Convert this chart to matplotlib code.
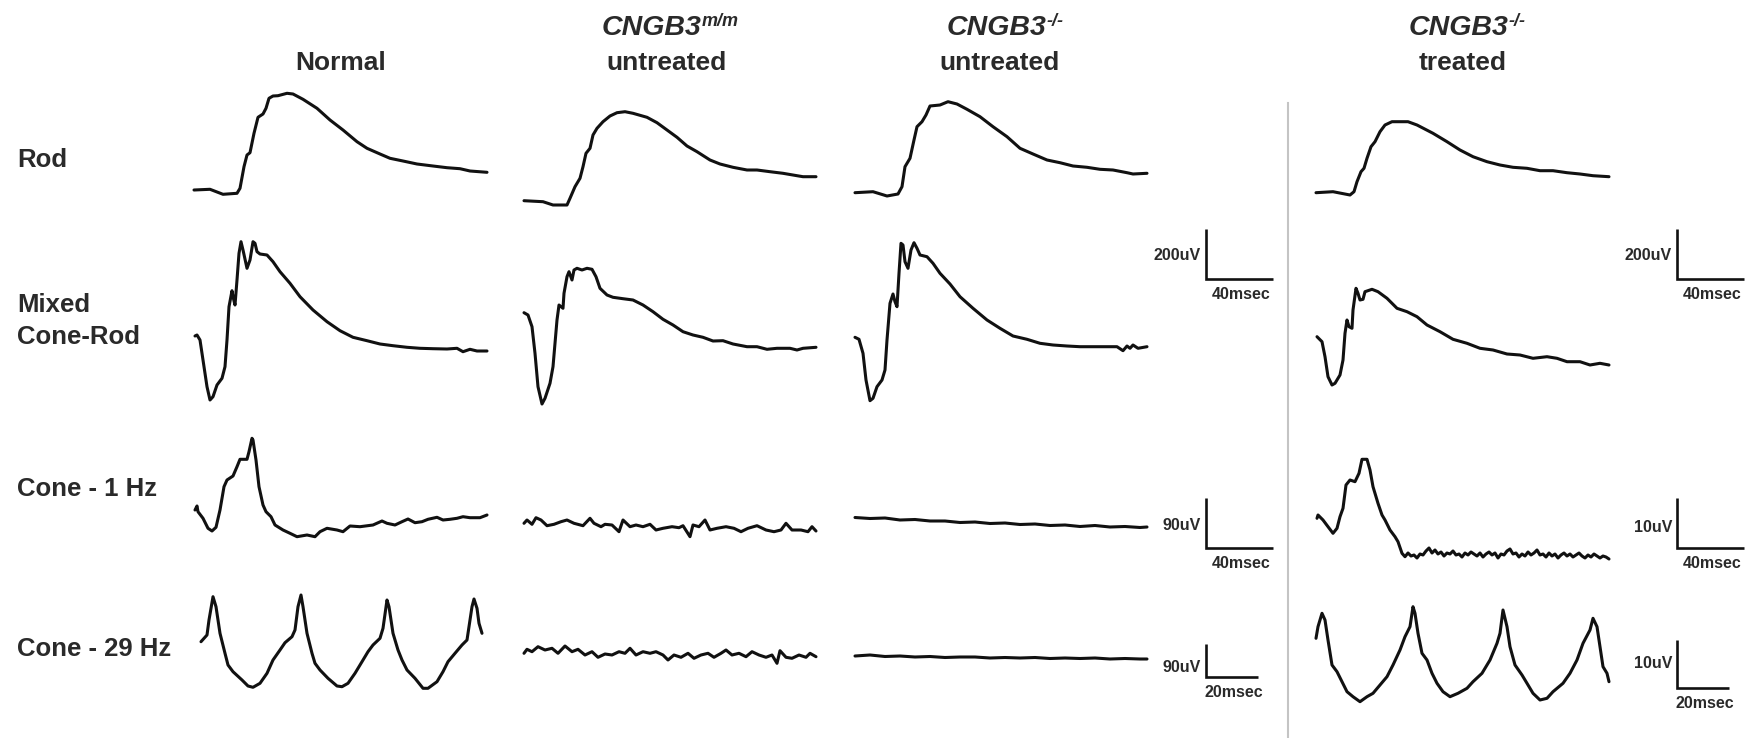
import numpy as np
import matplotlib
matplotlib.use("Agg")
import matplotlib.pyplot as plt

plt.rcParams['font.family'] = ['Liberation Sans', 'DejaVu Sans']

# ---------------- labels ----------------
col_names = ['Normal', 'untreated', 'untreated', 'treated']
col_gene = [None, 'CNGB3', 'CNGB3', 'CNGB3']
col_sup = [None, 'm/m', '-/-', '-/-']
row_names = ['Rod', 'Mixed\nCone-Rod', 'Cone - 1 Hz', 'Cone - 29 Hz']
scale_amp_labels = ['200uV', '200uV', '90uV', '10uV', '90uV', '10uV']
scale_time_labels = ['40msec', '40msec', '40msec', '40msec', '20msec', '20msec']

# ---------------- traces (time, amplitude; trace units, amplitude up) ----------------
# Row 1: Rod
rod_normal_t = [0, 16, 29, 43, 46, 50, 53, 56, 60, 64, 69, 72, 75, 79, 84, 93, 99, 109, 123, 136, 149, 163, 173, 186, 196, 209, 223, 239, 253, 266, 276, 293]
rod_normal_v = [0, 0.7, -4.3, -3.3, 1.7, 23.3, 35, 37.3, 56.7, 72.7, 76, 81.7, 91.7, 94, 94.3, 96.7, 96, 90.7, 81.7, 70, 60, 48.3, 41.7, 36, 31.7, 29, 26, 24, 22.3, 21.3, 19, 17.7]
rod_mm_t = [0, 19, 29, 43, 46, 51, 56, 59, 62, 66, 69, 73, 79, 86, 93, 101, 109, 123, 133, 143, 153, 163, 173, 186, 196, 209, 223, 233, 246, 259, 273, 279, 292]
rod_mm_v = [-10.7, -11.7, -15, -15, -8.3, 3.3, 11.7, 23.3, 36.7, 41.7, 55, 61.7, 68.3, 74, 77.3, 78.3, 76.7, 72.7, 67.3, 60, 52.7, 44, 38.3, 30, 26, 22.7, 20, 20, 18.3, 16.7, 14.3, 13.3, 13.3]
rod_ko_t = [0, 18, 32, 43, 47, 50, 55, 59, 62, 67, 71, 75, 85, 93, 102, 112, 125, 138, 152, 165, 178, 192, 205, 218, 232, 245, 258, 272, 278, 292]
rod_ko_v = [-2.7, -1.7, -6, -4, 3.3, 23.3, 31.7, 50, 63.3, 68.3, 75, 84, 85, 88.3, 86, 80.7, 73.3, 63.3, 53.3, 41.7, 36, 30, 27.3, 24, 22.7, 20.7, 20, 17.3, 16, 16.7]
rod_tr_t = [0, 17, 34, 38, 41, 45, 48, 51, 55, 59, 64, 69, 76, 84, 92, 101, 117, 131, 144, 157, 171, 184, 197, 211, 224, 237, 251, 264, 277, 293]
rod_tr_v = [-2.7, -1.7, -5, -1.7, 8.3, 18.3, 21.7, 31.7, 43.3, 48.3, 58.3, 65, 68.3, 68.3, 68.3, 65, 56.7, 48.3, 40, 33.3, 28.3, 25, 22.7, 21.7, 19.3, 19.3, 17.3, 16, 14.3, 13.3]

# Row 2: Mixed cone-rod
mix_normal_t = [1, 3, 6, 9, 13, 16, 19, 23, 28, 31, 33, 35, 38, 39, 41, 43, 45, 47, 49, 53, 56, 59, 61, 63, 66, 73, 79, 86, 96, 106, 119, 133, 146, 159, 173, 186, 199, 213, 226, 239, 253, 263, 269, 276, 283, 293]
mix_normal_v = [4, 5, 0, -20, -46.7, -60, -56.7, -45, -38.3, -26.7, 0, 33.3, 49.3, 43.3, 35, 60, 86.7, 98.3, 90, 71.7, 80, 98.3, 96.7, 88.3, 86, 85, 78.3, 68.3, 56.7, 43.3, 30, 18.3, 9.3, 2.7, -0.7, -4, -5.7, -7.3, -8.3, -8.7, -9, -8.3, -11.7, -9.3, -11, -11]
mix_mm_t = [0, 4, 8, 11, 14, 18, 21, 26, 29, 33, 35, 39, 40, 43, 45, 48, 50, 53, 58, 63, 68, 72, 76, 83, 89, 99, 109, 119, 129, 139, 149, 159, 169, 179, 189, 199, 209, 223, 233, 243, 253, 266, 273, 279, 292]
mix_mm_v = [27.3, 25, 13.3, -13.3, -46.7, -64, -58.3, -43.3, -26.7, 20, 35, 31.7, 46.7, 63.3, 68.3, 60, 70, 71.7, 70, 71.7, 70.7, 63.3, 51.7, 45, 42.7, 41.3, 40, 35, 28.3, 20.7, 15, 8.3, 5, 2.7, -1, -0.7, -4, -6.7, -6.7, -9.3, -8.3, -8.3, -10, -8.3, -7.3]
mix_ko_t = [0, 4, 8, 11, 15, 18, 22, 27, 30, 32, 35, 38, 40, 42, 44, 46, 48, 50, 53, 56, 59, 62, 65, 72, 78, 85, 95, 105, 118, 132, 145, 158, 172, 185, 198, 212, 225, 238, 252, 262, 268, 272, 275, 278, 283, 292]
mix_ko_v = [2.7, 0.7, -13.3, -40, -60.7, -58.3, -46.7, -40, -30, 0, 36.7, 46, 38.3, 33.3, 66.7, 96.7, 95, 78.3, 71.7, 90, 97.3, 91.7, 85, 83.3, 76.7, 66.7, 56, 43.3, 31.7, 20, 11.7, 4, 0.7, -3.3, -5, -6, -6.7, -6.7, -6.7, -6.7, -10.7, -6, -8.3, -5, -8.3, -6.7]
mix_tr_t = [1, 6, 9, 12, 16, 19, 24, 27, 29, 31, 33, 36, 37, 40, 42, 44, 47, 49, 56, 62, 71, 81, 91, 101, 111, 124, 137, 151, 164, 177, 191, 204, 217, 231, 241, 251, 264, 274, 284, 293]
mix_tr_v = [3.3, -1.7, -16.7, -36.7, -45, -43.3, -35, -20, 6.7, 20, 13.3, 11.7, 30, 51.7, 46.7, 40, 40.7, 48.3, 50.7, 48.3, 41.7, 31.7, 28.3, 23.3, 15, 8.3, 0.7, -3.3, -8.3, -10, -14, -15, -18.3, -16.7, -18.3, -21.7, -21.7, -25, -23.3, -25]

# Row 3: Cone 1 Hz
c1_normal_t = [1, 3, 4, 9, 14, 18, 22, 26, 30, 33, 39, 43, 46, 53, 55, 58, 59, 62, 65, 69, 72, 77, 81, 89, 96, 103, 113, 121, 126, 133, 143, 149, 156, 166, 179, 188, 193, 201, 208, 214, 221, 228, 234, 243, 249, 256, 263, 269, 276, 286, 293]
c1_normal_v = [10, 14, 8.3, 1.7, -8.3, -11, -7.3, 10, 33.3, 40, 44, 53.3, 60.7, 60.7, 68.3, 81.7, 80, 60, 33.3, 15, 8.3, 3.3, -5, -10, -13.3, -16.7, -15, -16.7, -11.7, -8.3, -10, -11.7, -6, -6.7, -5, -1, -3.3, -5, -1.7, 1, -2.7, -1.7, 0.7, 2.7, 0, 0.7, 1.7, 3.3, 2.3, 2.3, 5]
c1_mm_t = [0, 3, 8, 12, 17, 23, 30, 37, 43, 50, 59, 66, 70, 77, 81, 88, 95, 99, 106, 112, 119, 126, 132, 139, 148, 155, 159, 166, 169, 175, 181, 186, 193, 202, 210, 217, 224, 233, 242, 250, 257, 262, 268, 277, 284, 288, 292]
c1_mm_v = [-3.3, 0, -4.3, 2.3, 0, -5.7, -4.3, -1.7, 0, -3.3, -5.7, 1.7, -3.3, -6.7, -4.3, -5, -11.7, 0, -6.7, -5, -6.7, -4.3, -10, -8.3, -6.7, -7.7, -5.7, -16.7, -5, -6.7, 0, -10, -8.3, -6.7, -8.3, -11.7, -8.3, -5.7, -10, -11.7, -10, -3.3, -10, -10, -11.7, -6.7, -11]
c1_ko_t = [0, 15, 30, 45, 60, 75, 90, 105, 120, 135, 150, 165, 180, 195, 210, 225, 240, 255, 270, 285, 292]
c1_ko_v = [2.5, 1.5, 2, 0, 0.5, -1, -1, -2.5, -2, -3.5, -3, -4.5, -4, -5.5, -5, -6.5, -5.5, -7, -6.5, -7.5, -7]
c1_tr_t = [1, 2, 7, 12, 17, 21, 24, 27, 30, 34, 39, 43, 46, 51, 54, 57, 62, 66, 69, 74, 79, 82, 86, 89] + list(range(92, 291, 3)) + [293]
c1_tr_v = [1.7, 5, 0, -6.7, -13.3, -8.3, 3.3, 11.7, 35, 40, 38.3, 46.7, 60.7, 60.7, 50, 33.3, 16.7, 5, 0, -10, -16.7, -21.7, -33.3, -36.7,
           -33, -36, -35, -38, -34, -35, -31, -28, -33, -30,
           -34, -32, -36, -33, -34, -31, -35, -34, -37, -33,
           -35, -32, -34, -36, -33, -37, -34, -32, -35, -33,
           -38, -34, -35, -31, -29, -34, -33, -37, -34, -36,
           -32, -35, -33, -30, -35, -34, -37, -33, -36, -34,
           -38, -35, -33, -36, -34, -37, -35, -33, -36, -38,
           -35, -37, -34, -36, -38, -36, -37, -39]

# Row 4: Cone 29 Hz flicker
c29_normal_t = [7, 13, 15, 19, 22, 26, 31, 34, 39, 48, 54, 59, 66, 73, 79, 86, 91, 98, 101, 104, 107, 109, 113, 118, 121, 126, 134, 143, 148, 154, 161, 168, 174, 179, 186, 189, 193, 195, 199, 204, 208, 213, 221, 229, 234, 243, 249, 254, 261, 268, 273, 275, 278, 280, 283, 285, 288]
c29_normal_v = [8.3, 15, 30, 53.3, 43.3, 16.7, -3.3, -15, -21.7, -30, -36, -37.3, -33.3, -23.3, -10, 0, 7.3, 13.3, 20, 43.3, 55, 43.3, 16.7, -3.3, -13.3, -20, -28.3, -36, -36.7, -33.3, -23.3, -11.7, -1.7, 5, 11.7, 21.7, 50, 43.3, 16.7, 0, -10, -20, -28.3, -38.3, -38.3, -31.7, -21.7, -11.7, -3.3, 5, 10, 23.3, 43.3, 51, 41.7, 26.7, 16.7]
c29_mm_t = [0, 3, 8, 14, 21, 28, 34, 41, 48, 54, 61, 68, 74, 81, 88, 95, 101, 106, 112, 119, 126, 132, 139, 144, 150, 157, 164, 170, 177, 184, 190, 197, 202, 208, 215, 222, 228, 235, 242, 248, 253, 256, 262, 268, 275, 282, 286, 292]
c29_mm_v = [-3.3, 0.7, -1.7, 3.3, 0, 1.7, -3.3, 4, -1.7, 0.7, -5, -1.7, -7.3, -4, -5, -1.7, -3.3, 1.7, -5, -1.7, -3.3, -1.7, -5, -10, -5, -7.3, -3.3, -8.3, -5, -3.3, -7.3, -3.3, 0, -5, -3.3, -6.7, -1.7, -5, -7.3, -5, -13.3, -0.7, -7.3, -8.3, -5, -7.3, -3.3, -6.7]
c29_ko_t = [0, 15, 30, 45, 60, 75, 90, 105, 120, 135, 150, 165, 180, 195, 210, 225, 240, 255, 270, 285, 292]
c29_ko_v = [-6, -5, -6.5, -6, -7, -6.5, -7.5, -7, -7, -8, -7.5, -8, -7.5, -8.5, -8, -8.5, -8, -9, -8.5, -9, -9]
c29_tr_t = [0, 2, 6, 9, 12, 16, 21, 26, 31, 37, 44, 51, 57, 64, 71, 77, 84, 89, 94, 97, 99, 102, 106, 111, 116, 121, 127, 134, 142, 151, 157, 166, 174, 181, 184, 187, 191, 194, 199, 206, 211, 217, 224, 231, 237, 247, 254, 261, 267, 274, 277, 281, 284, 287, 291, 293]
c29_tr_v = [11.7, 23.3, 36.7, 30, 10, -15, -21.7, -31.7, -41.7, -46.7, -51.7, -46.7, -43.3, -35, -26.7, -15, 0, 13.3, 23.3, 43.3, 36.7, 16.7, -3.3, -10, -23.3, -33.3, -41.7, -46.7, -43.3, -38.3, -31.7, -23.3, -10, 6.7, 16.7, 40, 23.3, 3.3, -15, -25, -33.3, -43.3, -50, -48.3, -41.7, -33.3, -23.3, -10, 6.7, 20, 31.7, 23.3, 3.3, -16.7, -23.3, -31.7]

traces = [
    [(rod_normal_t, rod_normal_v), (rod_mm_t, rod_mm_v), (rod_ko_t, rod_ko_v), (rod_tr_t, rod_tr_v)],
    [(mix_normal_t, mix_normal_v), (mix_mm_t, mix_mm_v), (mix_ko_t, mix_ko_v), (mix_tr_t, mix_tr_v)],
    [(c1_normal_t, c1_normal_v), (c1_mm_t, c1_mm_v), (c1_ko_t, c1_ko_v), (c1_tr_t, c1_tr_v)],
    [(c29_normal_t, c29_normal_v), (c29_mm_t, c29_mm_v), (c29_ko_t, c29_ko_v), (c29_tr_t, c29_tr_v)],
]

# ---------------- layout ----------------
W, H = 1749, 738
fig = plt.figure(figsize=(W / 100, H / 100), dpi=100)
ax = fig.add_axes([0, 0, 1, 1])
ax.set_xlim(0, W)
ax.set_ylim(H, 0)
ax.axis('off')

col_x0 = [194, 524, 855, 1316]
row_y0 = [190, 340, 520, 650]
header_x = [341, 667, 1000, 1463]
gene_right = [None, 701, 1046, 1508]
row_label_base = [167, 312, 496, 656]
txt_color = '#2a2a2a'

for r in range(4):
    for c in range(4):
        t, v = traces[r][c]
        ax.plot(col_x0[c] + np.asarray(t, float), row_y0[r] - np.asarray(v, float),
                color='#111111', lw=2.2, solid_joinstyle='round', solid_capstyle='round')

# column headers
for c in range(4):
    ax.text(header_x[c], 70, col_names[c], ha='center', va='baseline', fontsize=19,
            fontweight='bold', color=txt_color)
    if col_gene[c]:
        gx = gene_right[c]
        ax.text(gx, 35, col_gene[c], ha='right', va='baseline', fontsize=20.5,
                fontweight='bold', fontstyle='italic', color=txt_color)
        ax.text(gx + 1, 26, col_sup[c], ha='left', va='baseline', fontsize=13,
                fontweight='bold', fontstyle='italic', color=txt_color)

# row labels
for r in range(4):
    lines = row_names[r].split('\n')
    for i, ln in enumerate(lines):
        ax.text(17, row_label_base[r] + 32 * i, ln, ha='left', va='baseline', fontsize=18.5,
                fontweight='bold', color=txt_color)

# separator line
ax.plot([1288, 1288], [103, H], color='#c4c4c4', lw=1.5)

# scale bars: (x, top, bottom, right, amplitude-label centre)
bars = [(1206, 229, 279, 1273, 254), (1677, 229, 279, 1744, 254),
        (1206, 498, 548, 1273, 524), (1677, 498, 548, 1744, 526),
        (1206, 644, 677, 1258, 666), (1677, 640, 688, 1729, 662)]
for (x, top, bot, right, lc), al, tl in zip(bars, scale_amp_labels, scale_time_labels):
    ax.plot([x, x, right], [top, bot, bot], color='#111111', lw=1.9,
            solid_joinstyle='miter', solid_capstyle='butt')
    ax.text(x - 5, lc + 6, al, ha='right', va='baseline', fontsize=11.5,
            fontweight='bold', color=txt_color)
    ax.text((x + right) / 2 + 2, bot + 20, tl, ha='center', va='baseline', fontsize=11.5,
            fontweight='bold', color=txt_color)

fig.savefig('out.png', dpi=100, facecolor='white')
